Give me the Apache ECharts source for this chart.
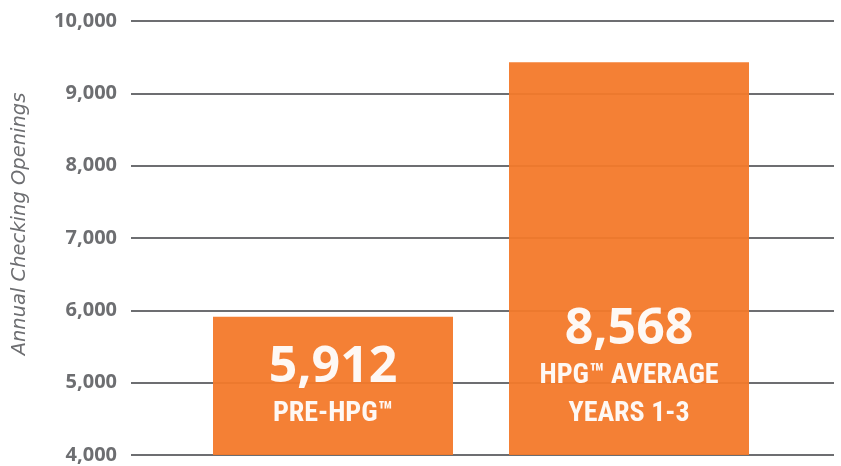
<!DOCTYPE html>
<html>
<head>
<meta charset="utf-8">
<script src="https://cdn.jsdelivr.net/npm/echarts@6/dist/echarts.min.js"></script>
<style>
  html, body { margin: 0; padding: 0; background: #fff; }
  #chart { width: 841px; height: 466px; }
</style>
</head>
<body>
<div id="chart"></div>
<script>
// chart data
var categories = ["PRE-HPG", "HPG AVERAGE"];
var barValues = [5912, 9430];
var valueLabels = ["5,912", "8,568"];
var subLabels = ["PRE-HPG™", "HPG™ AVERAGE\nYEARS 1-3"];
var yTicks = [4000, 5000, 6000, 7000, 8000, 9000, 10000];

var chartDom = document.getElementById("chart");
var myChart = echarts.init(chartDom);
var option;

var gray = "#6d6e71";
var orange = "#f3792a";
var condensed = "'Roboto Condensed', 'Liberation Sans Narrow', Roboto, sans-serif";

option = {
  animation: false,
  grid: [
    // gridlines + y axis
    { left: 131, right: 7, top: 21, bottom: 11 },
    // bars (offset so they sit where the original has them)
    { left: 185, right: 64, top: 21, bottom: 11 },
  ],
  xAxis: [
    { type: "category", gridIndex: 0, data: categories, show: false },
    { type: "category", gridIndex: 1, data: categories, show: false },
  ],
  yAxis: [
    {
      type: "value",
      gridIndex: 0,
      min: yTicks[0],
      max: yTicks[yTicks.length - 1],
      interval: 1000,
      name: "Annual Checking Openings",
      nameLocation: "middle",
      nameGap: 101,
      nameTextStyle: {
        color: gray,
        fontSize: 19.5,
        fontStyle: "italic",
        fontFamily: "'DejaVu Sans', sans-serif",
        padding: [0, 0, 0, 28],
      },
      axisLine: { show: false },
      axisTick: { show: false },
      axisLabel: {
        color: gray,
        fontSize: 20,
        fontWeight: "bold",
        fontFamily: "Open Sans",
        margin: 14,
        formatter: function (v) {
          return v.toLocaleString("en-US");
        },
      },
      splitLine: { lineStyle: { color: gray, width: 2 } },
    },
    {
      type: "value",
      gridIndex: 1,
      min: yTicks[0],
      max: yTicks[yTicks.length - 1],
      show: false,
    },
  ],
  series: [
    {
      type: "bar",
      xAxisIndex: 1,
      yAxisIndex: 1,
      barWidth: 240,
      itemStyle: { color: orange, opacity: 0.95 },
      label: {
        show: true,
        position: "insideBottom",
        distance: 22,
        formatter: function (p) {
          return "{num|" + valueLabels[p.dataIndex] + "}\n{sub|" +
            subLabels[p.dataIndex].split("\n").join("}\n{sub|") + "}";
        },
        rich: {
          num: {
            color: "#fff",
            fontSize: 50,
            fontWeight: "bold",
            fontFamily: "Open Sans",
            lineHeight: 54,
            align: "center",
          },
          sub: {
            color: "#fff",
            fontSize: 28,
            fontWeight: "bold",
            fontFamily: condensed,
            lineHeight: 38,
            align: "center",
          },
        },
      },
      data: barValues,
    },
  ],
};

option && myChart.setOption(option);
</script>
</body>
</html>
